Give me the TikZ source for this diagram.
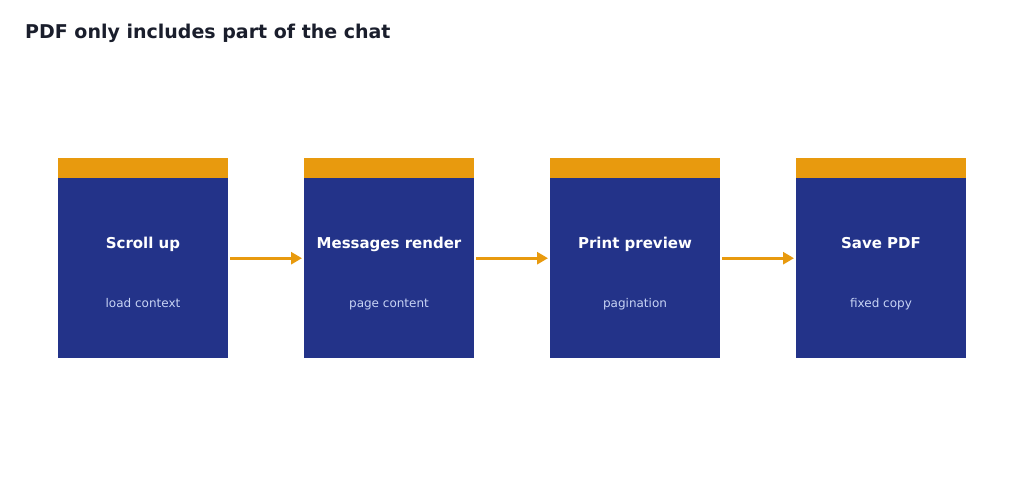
\documentclass[tikz,border=0pt]{standalone}
\usepackage{fontspec}
\setmainfont{DejaVu Sans}
\usetikzlibrary{calc,arrows.meta}
\definecolor{stageblue}{RGB}{35,51,137}
\definecolor{stagegold}{RGB}{232,154,14}
\definecolor{titleink}{RGB}{26,30,44}
\definecolor{subink}{RGB}{200,212,245}
\tikzset{
  stagebox/.style={fill=stageblue, minimum width=170pt, minimum height=180pt, inner sep=0pt, anchor=north west},
  stagebar/.style={fill=stagegold, minimum width=170pt, minimum height=20pt, inner sep=0pt, anchor=south west},
  headtext/.style={text=white, font=\bfseries\fontsize{15}{18}\selectfont, inner sep=0pt, anchor=base},
  subtext/.style={text=subink, font=\fontsize{12}{14}\selectfont, inner sep=0pt, anchor=base},
  flow/.style={stagegold, line width=3pt, -{Triangle[length=11pt,width=12pt]}}
}

\begin{document}
\begin{tikzpicture}[x=1pt,y=-1pt]
    \useasboundingbox (0,0) rectangle (1024,483);
    \node[anchor=west, inner sep=0pt, text=titleink, font=\bfseries\fontsize{19}{23}\selectfont] (title) at (25,33) {PDF only includes part of the chat};
    \foreach \name/\x/\head/\sub in {scroll/58/Scroll up/load context, render/304/Messages render/page content, preview/550/Print preview/pagination, save/796/Save PDF/fixed copy}
    {
        \node[stagebox] (\name) at (\x,178) {};
        \node[stagebar] (\name-bar) at (\x,178) {};
        \node[headtext] (\name-head) at (\x+85,248.5) {\head};
        \node[subtext] (\name-sub) at (\x+85,307.5) {\sub};
    }
    % arrows sit at the middle of box plus bar
    \foreach \a/\b in {scroll/render, render/preview, preview/save}
        \draw[flow] ($(\a.east)+(2,-10)$) -- ($(\b.west)+(-2,-10)$);
\end{tikzpicture}
\end{document}
